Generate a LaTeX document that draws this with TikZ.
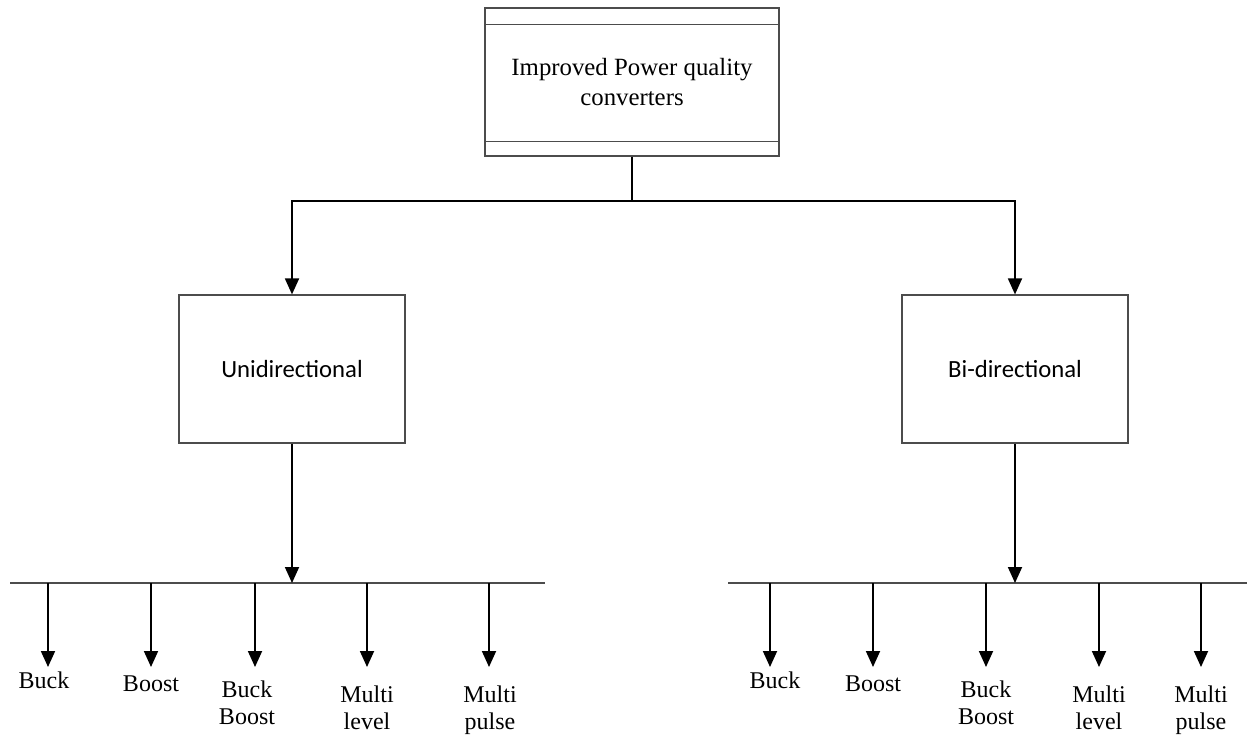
\documentclass[tikz,border=0pt]{standalone}
\usepackage{fontspec}
\setmainfont{Liberation Serif}
\newfontfamily\boxfont{Carlito}
\usetikzlibrary{arrows.meta,positioning}

\begin{document}
\begin{tikzpicture}[x=1pt,y=-1pt,
    box/.style={draw=black!70, line width=1.2pt, minimum width=226pt, minimum height=148pt,
      font=\boxfont\fontsize{24.7}{29}\selectfont},
    arr/.style={line width=1.8pt, -{Triangle[length=16pt,width=14pt]}},
    bus/.style={draw=black!70, line width=1.2pt},
    lbl/.style={inner sep=0pt, align=center, font=\fontsize{24}{27}\selectfont}]
  \useasboundingbox (0,0) rectangle (1247,740);

  % top block
  \node[box, minimum width=294pt, align=center, font=\fontsize{24.8}{30}\selectfont]
    (top) at (632,82) {Improved Power quality\\converters};
  \draw[bus]
    ([yshift=-17pt]top.north west) -- ([yshift=-17pt]top.north east)
    ([yshift=15pt]top.south west) -- ([yshift=15pt]top.south east);

  \node[box] (uni) at (292,369) {Unidirectional};
  \node[box] (bi) at (1015,369) {Bi-directional};

  \coordinate (split) at (632,201);
  \draw[line width=1.8pt] (top.south) -- (split);
  \draw[arr] (split) -| (uni.north);
  \draw[arr] (split) -| (bi.north);

  % buses
  \coordinate (uL) at (10,583);
  \coordinate (uR) at (545,583);
  \coordinate (bL) at (728,583);
  \coordinate (bR) at (1247,583);
  \draw[bus] (uL) -- (uR) (bL) -- (bR);
  \draw[arr] (uni.south) -- (uni.south |- uL);
  \draw[arr] (bi.south) -- (bi.south |- bL);

  \foreach \x/\lx/\gap/\txt/\n in {48/44/5/Buck/u1, 151/151/9/Boost/u2,
      255/247/14/{Buck\\Boost}/u3, 367/367/19/{Multi\\level}/u4,
      489/490/19/{Multi\\pulse}/u5,
      770/775/5/Buck/b1, 873/873/9/Boost/b2, 986/986/14/{Buck\\Boost}/b3,
      1099/1099/19/{Multi\\level}/b4, 1201/1201/19/{Multi\\pulse}/b5}
  {
    \coordinate (s\n) at (\x,583);
    \coordinate (t\n) at (\x,667);
    \draw[arr] (s\n) -- (t\n);
    \node[lbl, anchor=north] (l\n) at ({\lx},{667+\gap}) {\txt};
  }
\end{tikzpicture}
\end{document}
